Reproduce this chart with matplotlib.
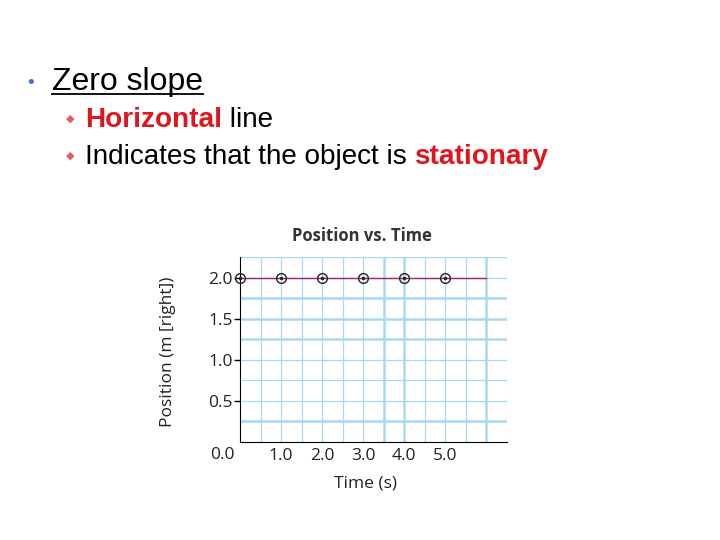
import matplotlib
matplotlib.use("Agg")
import matplotlib.pyplot as plt
import numpy as np

times = [0.0, 1.0, 2.0, 3.0, 4.0, 5.0]
positions = [2.0, 2.0, 2.0, 2.0, 2.0, 2.0]
line_times = [0.0, 6.0]
line_positions = [2.0, 2.0]
x_ticks = [1.0, 2.0, 3.0, 4.0, 5.0]
x_tick_labels = ["1.0", "2.0", "3.0", "4.0", "5.0"]
y_ticks = [0.5, 1.0, 1.5, 2.0]
y_tick_labels = ["0.5", "1.0", "1.5", "2.0"]

W, H = 720, 540
fig = plt.figure(figsize=(7.2, 5.4), dpi=100)
fig.patch.set_facecolor("white")
renderer = fig.canvas.get_renderer()

tf = "Liberation Sans"


def run(x_px, y_px, parts, size):
    x = x_px
    for txt, col, wt in parts:
        t = fig.text(x / W, 1 - y_px / H, txt, color=col, fontsize=size, family=tf,
                     weight=wt, va="baseline", ha="left")
        bb = t.get_window_extent(renderer=renderer)
        x = x + bb.width
    return x


fig.text(31 / W, 1 - 83 / H, "\u2022", color="#4a72c4", fontsize=14, family=tf, va="center", ha="center")
end = run(52, 90, [("Zero slope", "black", "normal")], 23)
fig.add_artist(plt.Line2D([52 / W, end / W], [1 - 94 / H, 1 - 94 / H], color="black", lw=1.3))

for yy in (119, 156):
    fig.text(70 / W, 1 - yy / H, "\u25c6", color="#e06060", fontsize=8, family="DejaVu Sans", va="center", ha="center")
run(85, 127, [("Horizontal", "#e0161e", "bold"), (" line", "black", "normal")], 20.1)
run(85, 164, [("Indicates that the object is ", "black", "normal"), ("stationary", "#e0161e", "bold")], 20.1)

# Chart
ax = fig.add_axes([240 / W, 1 - 442 / H, 267 / W, 185 / H])
ax.set_xlim(0, 6.5)
ax.set_ylim(0, 2.25)

gc = "#a9d9f0"
for xv in np.arange(0.5, 6.51, 0.5):
    lw = 1.8 if xv in (3.5, 4.0, 6.0) else 0.9
    ax.axvline(xv, color=gc, lw=lw, zorder=0)
for yv in np.arange(0.25, 2.26, 0.25):
    lw = 1.8 if yv in (0.25, 1.25, 1.75, 1.5) else 0.9
    ax.axhline(yv, color=gc, lw=lw, zorder=0)

ax.plot(line_times, line_positions, color="#a0206e", lw=1.0, zorder=2)
ax.plot(times, positions, linestyle="none", marker="o", markersize=7,
        markerfacecolor="none", markeredgecolor="#222222", markeredgewidth=1.0, zorder=3, clip_on=False)
ax.plot(times, positions, linestyle="none", marker="o", markersize=1.5,
        color="#222222", zorder=4, clip_on=False)

for s in ("top", "right"):
    ax.spines[s].set_visible(False)
ax.spines["left"].set_color("black")
ax.spines["bottom"].set_color("black")

cf = "Open Sans"
ax.set_yticks(y_ticks)
ax.set_yticklabels(y_tick_labels, fontsize=12.5, family=cf, color="#222222")
ax.tick_params(axis="y", length=4, width=1, pad=1, color="black")
ax.set_xticks(x_ticks)
ax.set_xticklabels(x_tick_labels, fontsize=12.5, family=cf, color="#222222")
ax.tick_params(axis="x", length=0, pad=4)
ax.text(-0.022, -0.025, "0.0", transform=ax.transAxes, fontsize=12.5, family=cf, color="#222222",
        ha="right", va="top")

fig.text(362 / W, 1 - 236 / H, "Position vs. Time", fontsize=12, family=cf, weight="bold",
         color="#333333", ha="center", va="center")
fig.text(365 / W, 1 - 484 / H, "Time (s)", fontsize=12.5, family=cf, color="#222222",
         ha="center", va="center")
fig.text(168 / W, 1 - 352 / H, "Position (m [right])", fontsize=12.5, family=cf, color="#222222",
         ha="center", va="center", rotation=90)

fig.savefig("out.png", dpi=100)
